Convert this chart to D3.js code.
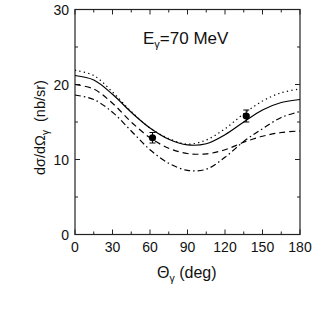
<!DOCTYPE html>
<html><head><meta charset="utf-8">
<script src="https://d3js.org/d3.v7.min.js"></script>
<style>body{margin:0;background:#fff}svg{display:block}text{font-family:"Liberation Sans",Arial,sans-serif;fill:#111}</style>
</head><body><div id="c"></div>
<script>
const angles = [0,15,30,45,60,75,90,105,120,135,150,165,180];
const solid   = [21.2,20.6,18.7,16.3,14.2,12.7,11.95,12.1,13.3,15.0,16.6,17.6,18.0];
const dotted  = [21.9,21.2,19.0,16.4,14.2,12.8,12.05,12.6,14.1,16.1,17.8,18.9,19.4];
const dashed  = [20.0,19.4,17.5,15.0,12.9,11.5,10.8,10.75,11.3,12.3,13.1,13.6,13.8];
const dashdot = [18.6,18.0,16.3,13.8,11.3,9.5,8.55,8.7,10.3,12.4,14.1,15.6,16.4];
const dataTheta = [62,137];
const dataVal = [12.9,15.8];
const dataErr = [0.7,0.8];
const xTicks = [0,30,60,90,120,150,180];
const yTicks = [0,10,20,30];

const W=322,H=311;
const svg=d3.select("#c").append("svg").attr("width",W).attr("height",H);
const x=d3.scaleLinear().domain([0,180]).range([75,300]);
const y=d3.scaleLinear().domain([0,30]).range([234.5,9.5]);
const ax="#222";

svg.append("rect").attr("x",75).attr("y",9.5).attr("width",225).attr("height",225)
  .attr("fill","none").attr("stroke",ax).attr("stroke-width",1.2);

const g=svg.append("g").attr("stroke",ax).attr("stroke-width",1);
d3.range(0,181,15).forEach(t=>{
  const L = t%30===0?5:3;
  g.append("line").attr("x1",x(t)).attr("x2",x(t)).attr("y1",y(0)).attr("y2",y(0)-L);
  g.append("line").attr("x1",x(t)).attr("x2",x(t)).attr("y1",y(30)).attr("y2",y(30)+L);
});
d3.range(0,31,5).forEach(v=>{
  const L = v%10===0?5:3;
  g.append("line").attr("x1",x(0)).attr("x2",x(0)+L).attr("y1",y(v)).attr("y2",y(v));
  g.append("line").attr("x1",x(180)).attr("x2",x(180)-L).attr("y1",y(v)).attr("y2",y(v));
});

xTicks.forEach(t=>svg.append("text").attr("x",x(t)).attr("y",252).attr("text-anchor","middle")
  .attr("font-size",14).text(t));
yTicks.forEach(v=>svg.append("text").attr("x",69).attr("y",y(v)+5).attr("text-anchor","end")
  .attr("font-size",14).text(v));

const line=d3.line().x((d,i)=>x(angles[i])).y(d=>y(d)).curve(d3.curveCatmullRom.alpha(0.5));
const styles=[
  [dotted,"1.3,3.2"],
  [solid,null],
  [dashed,"6,4"],
  [dashdot,"6,3,1.5,3"]
];
styles.forEach(([arr,da])=>{
  const p=svg.append("path").attr("d",line(arr)).attr("fill","none").attr("stroke","#000").attr("stroke-width",1.2);
  if(da) p.attr("stroke-dasharray",da);
});

dataTheta.forEach((t,i)=>{
  const cx=x(t),v=dataVal[i],e=dataErr[i];
  svg.append("line").attr("x1",cx).attr("x2",cx).attr("y1",y(v-e)).attr("y2",y(v+e)).attr("stroke","#000");
  [v-e,v+e].forEach(q=>svg.append("line").attr("x1",cx-3).attr("x2",cx+3).attr("y1",y(q)).attr("y2",y(q)).attr("stroke","#000"));
  svg.append("circle").attr("cx",cx).attr("cy",y(v)).attr("r",3.6).attr("fill","#000");
});

const tt=svg.append("text").attr("x",143).attr("y",43.5).attr("font-size",17);
tt.append("tspan").text("E");
tt.append("tspan").attr("font-size",11).attr("dy",4).text("γ");
tt.append("tspan").attr("dy",-4).text("=70 MeV");

const xl=svg.append("text").attr("x",157).attr("y",278).attr("font-size",16);
xl.append("tspan").text("Θ");
xl.append("tspan").attr("font-size",10.5).attr("dy",4).text("γ");
xl.append("tspan").attr("dy",-4).text(" (deg)");

const yl=svg.append("text").attr("transform","translate(45,175) rotate(-90)").attr("font-size",14.5)
  .attr("xml:space","preserve").style("white-space","pre");
yl.append("tspan").text("dσ/dΩ");
yl.append("tspan").attr("font-size",10).attr("dy",4).text("γ");
yl.append("tspan").attr("dy",-4).text("  (nb/sr)");
</script></body></html>
